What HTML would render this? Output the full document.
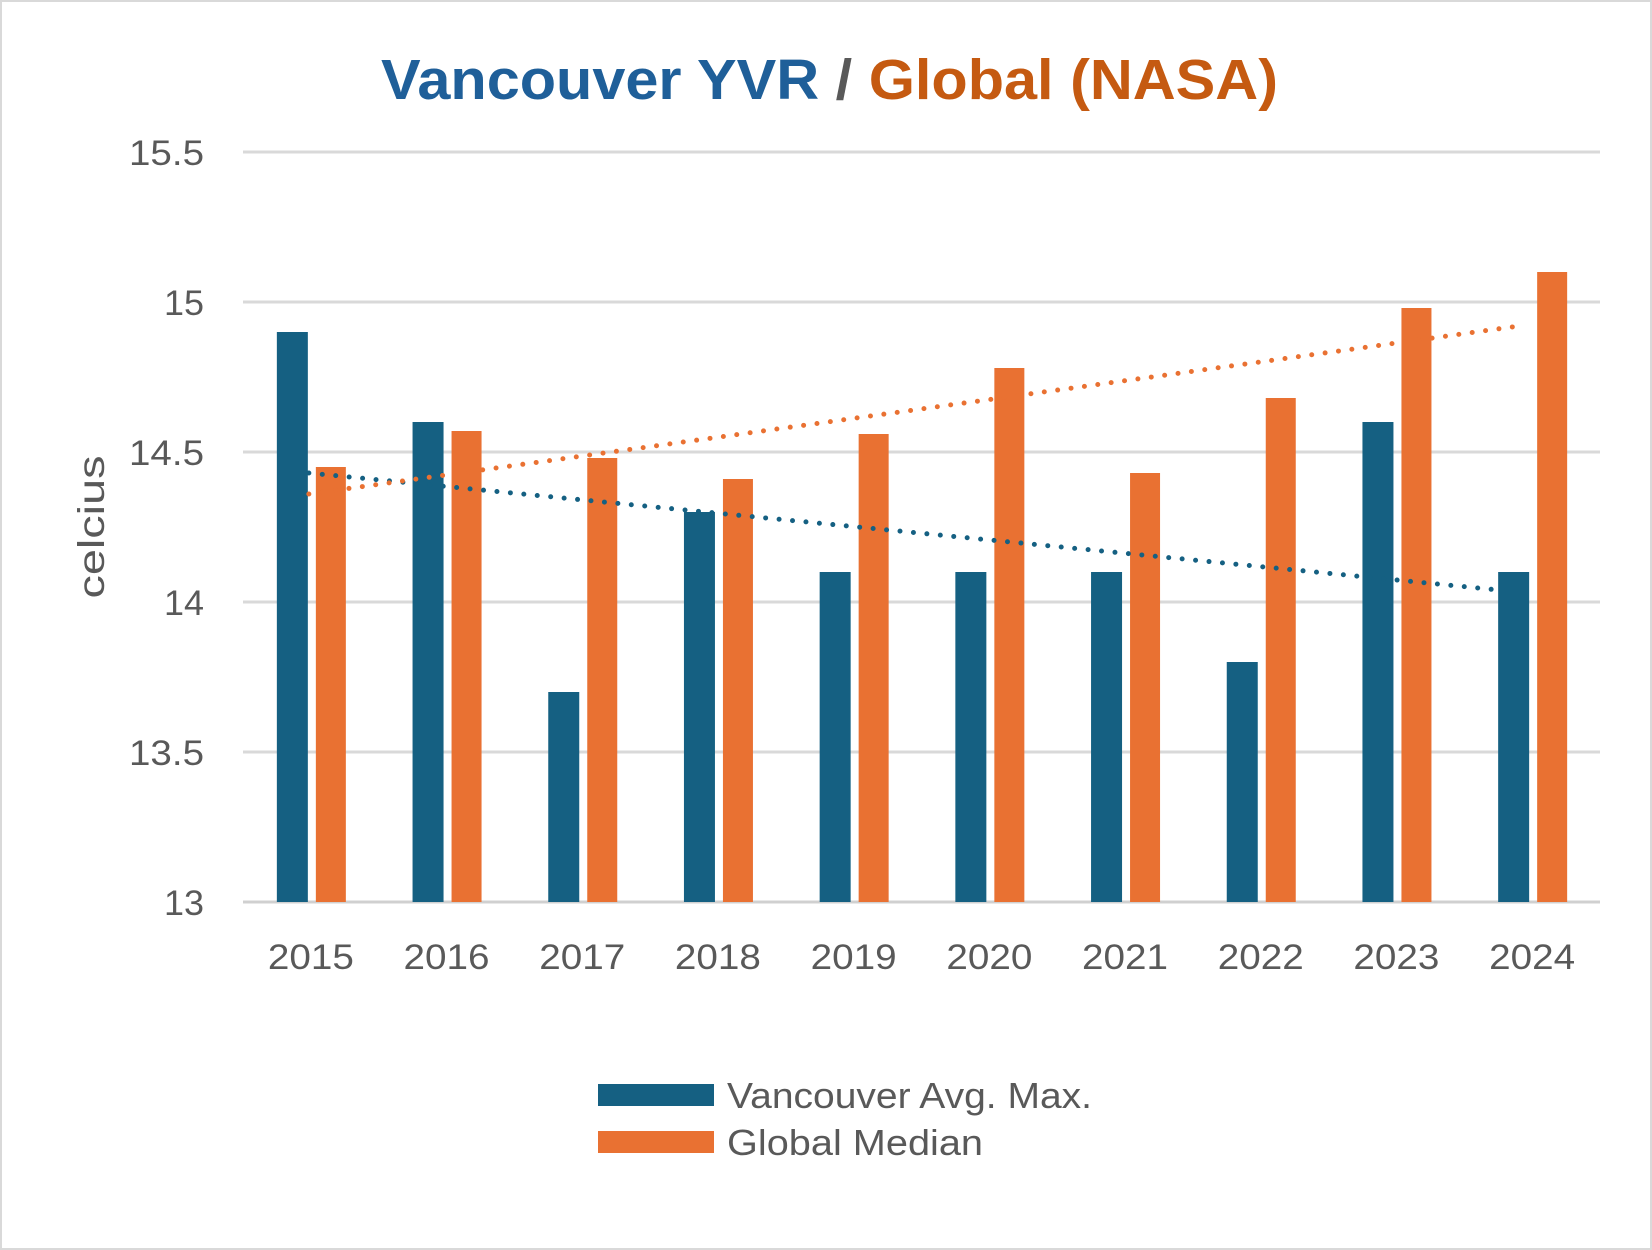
<!DOCTYPE html>
<html><head><meta charset="utf-8"><style>
html,body{margin:0;padding:0;background:#fff;}
svg{display:block;font-family:"Liberation Sans",sans-serif;}
</style></head><body>
<svg id="chart" width="1652" height="1250" viewBox="0 0 1652 1250">
<rect x="1" y="1" width="1650" height="1248" fill="#fff" stroke="#d9d9d9" stroke-width="2"/>
<text x="381" y="99" font-size="57" font-weight="bold" textLength="897" lengthAdjust="spacingAndGlyphs"><tspan fill="#1f5f99">Vancouver YVR</tspan><tspan fill="#595959"> / </tspan><tspan fill="#c55a11">Global (NASA)</tspan></text>
<text transform="translate(104,527) rotate(-90)" text-anchor="middle" font-size="37" fill="#595959" textLength="143" lengthAdjust="spacingAndGlyphs">celcius</text>
<g id="grid"></g><g id="bars"></g><g id="trends"></g><g id="labels"></g>
<g>
<rect x="598" y="1084" width="116" height="22" fill="#156082"/>
<text x="727" y="1108" font-size="36" fill="#595959" textLength="365" lengthAdjust="spacingAndGlyphs">Vancouver Avg. Max.</text>
<rect x="598" y="1131" width="116" height="22" fill="#e97132"/>
<text x="727" y="1155" font-size="36" fill="#595959" textLength="256" lengthAdjust="spacingAndGlyphs">Global Median</text>
</g>
</svg>
<script>
const categories=["2015","2016","2017","2018","2019","2020","2021","2022","2023","2024"];
const vancouver=[14.9,14.6,13.7,14.3,14.1,14.1,14.1,13.8,14.6,14.1];
const globalMedian=[14.45,14.57,14.48,14.41,14.56,14.78,14.43,14.68,14.98,15.1];
const yTicks=[13,13.5,14,14.5,15,15.5];
const yTickLabels=["13","13.5","14","14.5","15","15.5"];
const trendVancouver=[14.43,14.04];
const trendGlobal=[14.36,14.92];
const NS="http://www.w3.org/2000/svg";
const L=243,R=1600,T=152,B=902,ymin=13,ymax=15.5;
const bw=(R-L)/categories.length;
const y=v=>B-(v-ymin)/(ymax-ymin)*(B-T);
const cx=i=>L+bw*(i+0.5);
function mk(tag,attrs,parent){const e=document.createElementNS(NS,tag);for(const k in attrs)e.setAttribute(k,attrs[k]);document.getElementById(parent).appendChild(e);return e;}
yTicks.forEach((t,i)=>{
 const g=mk('line',{x1:L,x2:R,y1:y(t),y2:y(t),stroke:i===0?'#d0d0d0':'#d9d9d9','stroke-width':3},'grid');
 
 
 const lbl=yTickLabels[i];
 const a={x:204,y:y(t)+13,'text-anchor':'end','font-size':35,fill:'#595959'};
 if(lbl.length===4){a.textLength=75;a.lengthAdjust='spacingAndGlyphs';}
 else{a.textLength=40;a.lengthAdjust='spacingAndGlyphs';}
 const tx=mk('text',a,'labels');
 tx.textContent=lbl;
 
 
});
categories.forEach((c,i)=>{
 const b1=mk('rect',{x:cx(i)-34,y:y(vancouver[i]),width:31,height:B-y(vancouver[i]),fill:'#156082'},'bars');
 
 
 const b2=mk('rect',{x:cx(i)+5,y:y(globalMedian[i]),width:30,height:B-y(globalMedian[i]),fill:'#e97132'},'bars');
 
 
 const t=mk('text',{x:cx(i),y:969,'text-anchor':'middle','font-size':35,fill:'#595959',textLength:86,lengthAdjust:'spacingAndGlyphs'},'labels');
 t.textContent=c;
 
 
});
const n=categories.length-1;
const tv=mk('line',{x1:cx(0)-2,y1:y(trendVancouver[0]),x2:cx(n)-34,y2:y(trendVancouver[1]),stroke:'#156082','stroke-width':5,'stroke-linecap':'round','stroke-dasharray':'0 13.5'},'trends');


const tg=mk('line',{x1:cx(0)-2,y1:y(trendGlobal[0]),x2:cx(n)-13,y2:y(trendGlobal[1]),stroke:'#e97132','stroke-width':5,'stroke-linecap':'round','stroke-dasharray':'0 13.5'},'trends');


</script>
</body></html>
